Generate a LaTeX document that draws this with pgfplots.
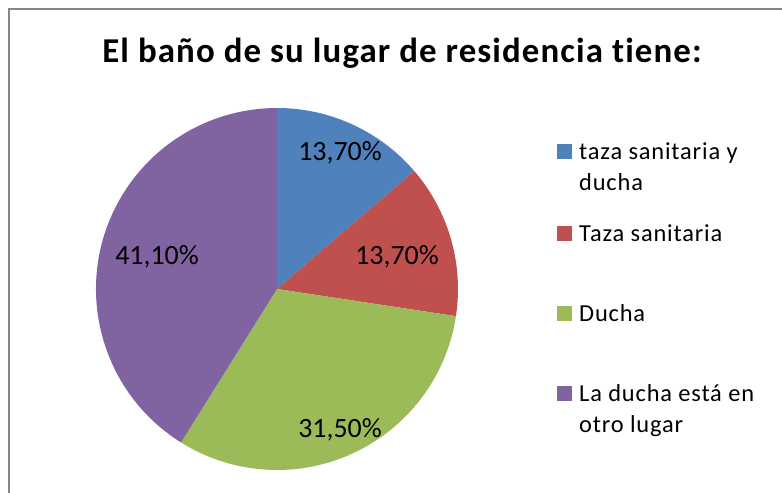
\documentclass[border=0pt]{standalone}
\usepackage{fontspec}
\setmainfont[Ligatures=NoCommon]{Carlito}
\usepackage{pgfplots}
\pgfplotsset{compat=1.18}
\definecolor{cBlue}{HTML}{4F81BD}
\definecolor{cRed}{HTML}{C0504D}
\definecolor{cGreen}{HTML}{9BBB59}
\definecolor{cPurple}{HTML}{8064A2}
\definecolor{cFrame}{HTML}{868686}
\begin{document}
\begin{tikzpicture}
\clip (0,0) rectangle (782bp,493bp);
\begin{axis}[
  at={(0,0)}, anchor=south west,
  scale only axis, width=782bp, height=493bp,
  xmin=0, xmax=782, ymin=0, ymax=493,
  hide axis,
]
% percentages: 13.7, 13.7, 31.5, 41.1 (clockwise from top)
\addplot[draw=none, fill=cBlue] coordinates {(277,204)} -- ++(90:181bp)
  arc[start angle=90, end angle={90-3.6*13.7}, radius=181bp] -- cycle;
\addplot[draw=none, fill=cRed] coordinates {(277,204)} -- ++({90-3.6*13.7}:181bp)
  arc[start angle={90-3.6*13.7}, end angle={90-3.6*27.4}, radius=181bp] -- cycle;
\addplot[draw=none, fill=cGreen] coordinates {(277,204)} -- ++({90-3.6*27.4}:181bp)
  arc[start angle={90-3.6*27.4}, end angle={90-3.6*58.9}, radius=181bp] -- cycle;
\addplot[draw=none, fill=cPurple] coordinates {(277,204)} -- ++({90-3.6*58.9}:181bp)
  arc[start angle={90-3.6*58.9}, end angle={90-3.6*100}, radius=181bp] -- cycle;

\draw[cFrame, line width=2bp] (axis cs:9,484) rectangle (axis cs:820,-20);

\node[anchor=base, inner sep=0pt, font=\bfseries\fontsize{35}{40}\selectfont\addfontfeatures{LetterSpace=3.2}] at (axis cs:402,430) {El baño de su lugar de residencia tiene:};

\begin{scope}[every node/.style={font=\fontsize{28}{32}\selectfont}]
\node at (axis cs:340,340) {13,70\%};
\node at (axis cs:397,236) {13,70\%};
\node at (axis cs:157,236) {41,10\%};
\node at (axis cs:340,63) {31,50\%};
\end{scope}

\fill[cBlue]   (axis cs:557,334) rectangle (axis cs:572,349);
\fill[cRed]    (axis cs:557,252) rectangle (axis cs:572,267);
\fill[cGreen]  (axis cs:557,172) rectangle (axis cs:572,187);
\fill[cPurple] (axis cs:557,92)  rectangle (axis cs:572,107);
\begin{scope}[every node/.style={anchor=base west, inner sep=0pt, font=\fontsize{24.5}{28}\selectfont\addfontfeatures{LetterSpace=3.4}}]
\node at (axis cs:579,333) {taza sanitaria y};
\node at (axis cs:579,302) {ducha};
\node at (axis cs:579,251) {Taza sanitaria};
\node at (axis cs:579,171) {Ducha};
\node at (axis cs:579,91) {La ducha está en};
\node at (axis cs:579,60) {otro lugar};
\end{scope}
\end{axis}
\end{tikzpicture}
\end{document}
